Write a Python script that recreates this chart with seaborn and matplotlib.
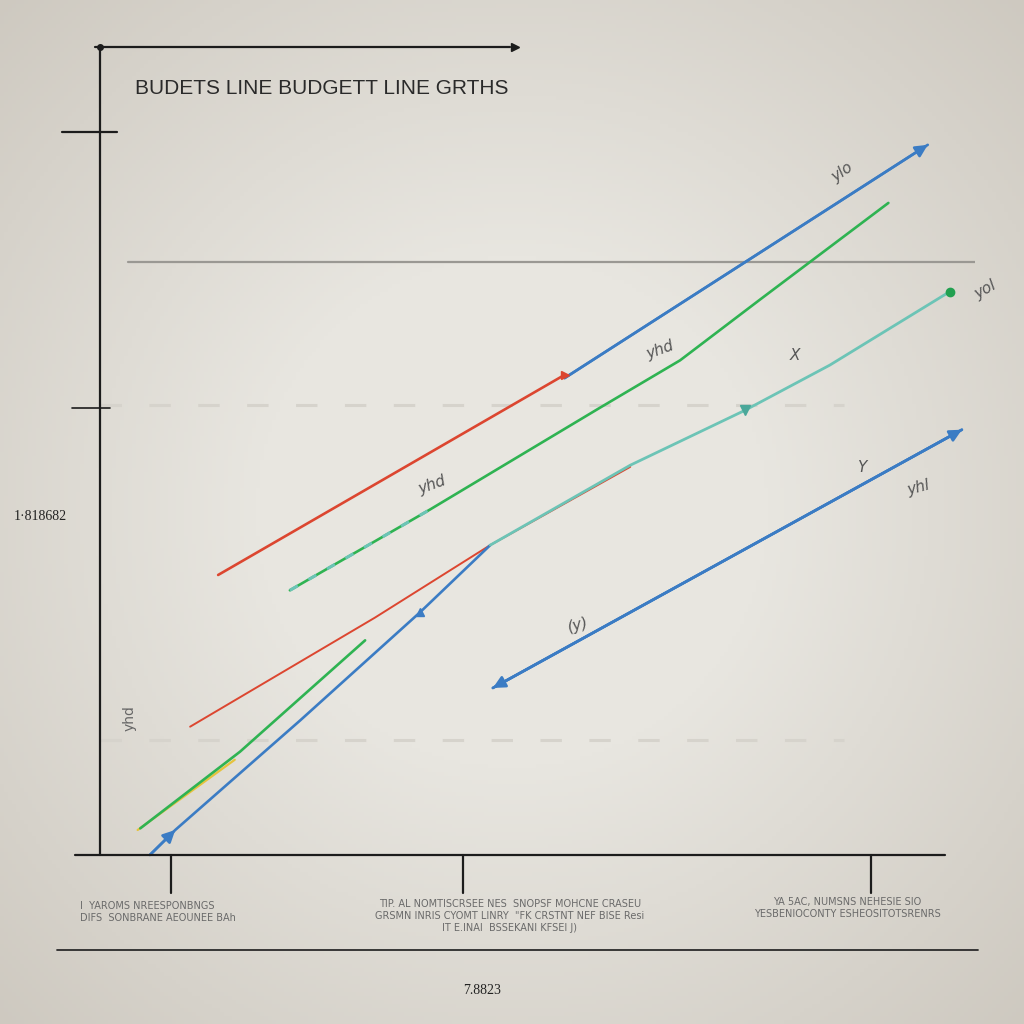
import numpy as np
import pandas as pd
import matplotlib
matplotlib.use("Agg")
import matplotlib.pyplot as plt
import seaborn as sns
from matplotlib.lines import Line2D

sns.set_theme(style="white")
plt.rcParams['font.family'] = ['DejaVu Sans']

# ---- data (chart units 0..100) ----
red_upper_x = [13.5, 53.1]
red_upper_y = [34.7, 59.5]
blue_upper_x = [53.1, 94.6]
blue_upper_y = [59.1, 88.0]
green_upper_x = [21.7, 37.7, 57.1, 66.3, 75.4, 90.1]
green_upper_y = [32.8, 42.8, 55.4, 61.3, 68.8, 80.8]
teal_mid_x = [44.6, 60.6, 73.7, 83.4, 97.1]
teal_mid_y = [38.4, 48.3, 55.1, 60.7, 69.8]
red_lower_x = [10.3, 31.4, 44.6, 60.6]
red_lower_y = [15.9, 29.4, 38.4, 48.1]
green_lower_x = [4.6, 16.0, 30.3]
green_lower_y = [3.3, 12.8, 26.6]
yellow_x = [4.3, 15.4]
yellow_y = [3.1, 11.8]
blue_lower_x = [5.7, 8.6, 22.9, 36.6, 44.6]
blue_lower_y = [0.0, 3.1, 16.7, 30.1, 38.4]
blue_right_x = [44.9, 98.5]
blue_right_y = [20.7, 52.7]
ref_level = 73.5
dash_levels = [55.8, 14.3]

title = "BUDETS LINE BUDGETT LINE GRTHS"
y_label = "1·818682"
x_label = "7.8823"
tick_texts = [
    "I  YAROMS NREESPONBNGS\nDIFS  SONBRANE AEOUNEE BAh",
    "TIP. AL NOMTISCRSEE NES  SNOPSF MOHCNE CRASEU\nGRSMN INRIS CYOMT LINRY  \"FK CRSTNT NEF BISE Resi\nIT E.INAI  BSSEKANI KFSEI J)",
    "YA 5AC, NUMSNS NEHESIE SIO\nYESBENIOCONTY ESHEOSITOTSRENRS",
]

BLUE = "#3b7cc4"
RED = "#dc4630"
GREEN = "#2fb352"
TEAL = "#6cc4b6"
YELLOW = "#e6c33c"

W = 1024.0
def P(px, py):
    return (px / W, 1 - py / W)

fig = plt.figure(figsize=(10.24, 10.24), dpi=100)

# background vignette
bg = fig.add_axes([0, 0, 1, 1], zorder=0)
yy, xx = np.mgrid[-1:1:256j, -1:1:256j]
r = np.sqrt(xx**2 + yy**2)
t = np.clip((r - 0.5) / 0.95, 0, 1)
c0 = np.array([232, 230, 224]) / 255
c1 = np.array([205, 200, 191]) / 255
img = c0[None, None, :] * (1 - t[..., None]) + c1[None, None, :] * t[..., None]
bg.imshow(img, extent=[0, 1, 0, 1], aspect="auto")
bg.axis("off")

# main axes: x 100..975 px, y 855..48 px
ax = fig.add_axes([100 / W, 1 - 855 / W, 875 / W, 807 / W], zorder=1)
ax.set_facecolor("none")
ax.set_xlim(0, 100)
ax.set_ylim(0, 100)
for s in ax.spines.values():
    s.set_visible(False)
ax.set_xticks([])
ax.set_yticks([])

# reference lines
ax.axhline(ref_level, xmin=0.032, xmax=1.0, color="#9a9893", lw=1.6, zorder=1)
for lv in dash_levels:
    ax.axhline(lv, xmin=0.0, xmax=0.85, color="#d6d3cc", lw=2.2, ls=(0, (7, 9)), zorder=1)

def line(x, y, color, lw=1.9, ls="-", z=3):
    sns.lineplot(x=x, y=y, ax=ax, color=color, lw=lw, ls=ls, sort=False,
                 estimator=None, zorder=z, legend=False)

line(yellow_x, yellow_y, YELLOW, lw=1.6)
line(green_lower_x, green_lower_y, GREEN)
line(red_lower_x, red_lower_y, RED, lw=1.4)
line(blue_lower_x, blue_lower_y, BLUE)
line(teal_mid_x, teal_mid_y, TEAL, lw=2.0)
line(red_upper_x, red_upper_y, RED)
line(green_upper_x, green_upper_y, GREEN)
line(green_upper_x[:2], green_upper_y[:2], TEAL, lw=2.2, ls=(0, (3, 4)), z=4)
line(blue_upper_x, blue_upper_y, BLUE)
line(blue_right_x, blue_right_y, BLUE)

def arrow(x0, y0, x1, y1, color):
    ax.annotate("", xy=(x1, y1), xytext=(x0, y0),
                arrowprops=dict(arrowstyle="-|>", color=color, lw=1.9,
                                mutation_scale=18, shrinkA=0, shrinkB=0), zorder=5)

arrow(blue_upper_x[0], blue_upper_y[0], blue_upper_x[1], blue_upper_y[1], BLUE)
arrow(blue_right_x[0], blue_right_y[0], blue_right_x[1], blue_right_y[1], BLUE)
arrow(blue_right_x[1], blue_right_y[1], blue_right_x[0], blue_right_y[0], BLUE)
arrow(blue_lower_x[0], blue_lower_y[0], blue_lower_x[1], blue_lower_y[1], BLUE)
ax.plot([red_upper_x[1]], [red_upper_y[1]], marker=">", color=RED, ms=6, zorder=5)
ax.plot([teal_mid_x[-1]], [teal_mid_y[-1]], marker="o", color="#22a050", ms=6, zorder=5)
ax.plot([teal_mid_x[2]], [teal_mid_y[2]], marker="v", color="#4aa89a", ms=7, zorder=5)
ax.plot([blue_lower_x[3]], [blue_lower_y[3]], marker="^", color=BLUE, ms=6, zorder=5)

# axis frame (decoration in figure pixels)
def fline(xs, ys, color="#1c1c1c", lw=1.6):
    fig.add_artist(Line2D([x / W for x in xs], [1 - y / W for y in ys], color=color, lw=lw, zorder=6))

fline([100, 100], [47, 855])
fline([95, 510], [47, 47])
fig.add_artist(Line2D([100 / W], [1 - 47 / W], marker="o", color="#1c1c1c", ms=4, zorder=6))
fig.add_artist(Line2D([515 / W], [1 - 47 / W], marker=">", color="#1c1c1c", ms=6, zorder=6))
fline([62, 117], [132, 132])
fline([72, 110], [408, 408], lw=1.2)
fline([75, 945], [855, 855])
for tx in [171, 463, 871]:
    fline([tx, tx], [855, 893])
fline([57, 978], [950, 950], color="#2a2a2a", lw=1.3)

# texts
fig.text(*P(135, 88), title, fontsize=15, color="#2a2a2a", va="center", ha="left",
         family=["Liberation Sans", "DejaVu Sans"])
fig.text(*P(14, 517), y_label, fontsize=10, color="#222222", va="center", ha="left",
         family=["Liberation Serif", "DejaVu Serif"])
fig.text(*P(482, 990), x_label, fontsize=10, color="#222222", va="center", ha="center",
         family=["Liberation Serif", "DejaVu Serif"])
fig.text(*P(80, 912), tick_texts[0], fontsize=7, color="#6a6a6a", va="center", ha="left", linespacing=1.3)
fig.text(*P(510, 916), tick_texts[1], fontsize=7, color="#6a6a6a", va="center", ha="center", linespacing=1.3)
fig.text(*P(847, 908), tick_texts[2], fontsize=7, color="#6a6a6a", va="center", ha="center", linespacing=1.3)
fig.text(*P(130, 718), "yhd", fontsize=10, color="#666666", va="center", ha="center", rotation=90)

notes = [(842, 172, "ylo", 35), (660, 350, "yhd", 20), (795, 355, "X", 0), (432, 485, "yhd", 20),
         (578, 625, "(y)", 15), (862, 468, "Y", 0), (918, 488, "yhl", 15), (985, 290, "yol", 30)]
for px, py, s, rot in notes:
    fig.text(*P(px, py), s, fontsize=11, color="#555555", va="center", ha="center",
             rotation=rot, style="italic", zorder=7)

fig.savefig("out.png", dpi=100)
